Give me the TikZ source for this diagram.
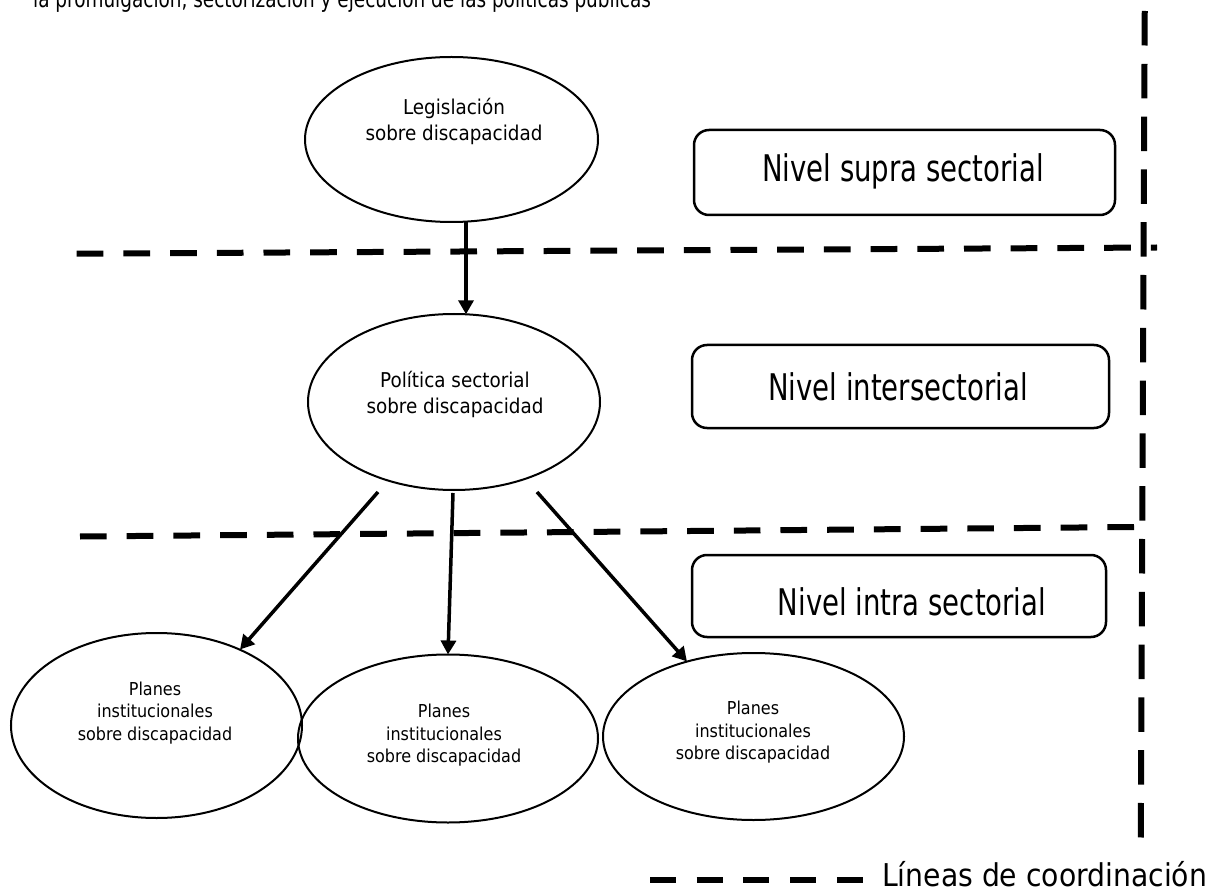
\documentclass[tikz,border=0pt]{standalone}
\usepackage{fontspec}
\setmainfont{DejaVu Sans Condensed}
\usetikzlibrary{arrows.meta,calc,shapes.geometric}
\begin{document}
\begin{tikzpicture}[x=1pt,y=-1pt,
  ell/.style={ellipse,draw,line width=2pt,inner sep=0pt,outer sep=0pt},
  big/.style={font=\fontsize{20.4}{26}\selectfont,align=center,inner sep=0pt},
  small/.style={font=\fontsize{17.8}{22.5}\selectfont,align=center,inner sep=0pt},
  lvlbox/.style={draw,line width=2.5pt,rounded corners=15pt,inner sep=0pt},
  lvltext/.style={font=\fontsize{30.6}{36}\selectfont,inner sep=0pt,anchor=base},
  arr/.style={line width=3.5pt,-{Triangle[width=15pt,length=14pt]}},
  hcoord/.style={line width=6pt,dash pattern=on 26.7pt off 20pt},
  vcoord/.style={line width=6pt,dash pattern=on 34.5pt off 18.3pt}]
\useasboundingbox (0,0) rectangle (1207,890);
\clip (0,0) rectangle (1207,890);

% partially visible heading
\node[font=\fontsize{20.5}{25}\selectfont,inner sep=0pt,anchor=base west] (head) at (33,8)
  {\scalebox{1}[1.15]{la promulgación, sectorización y ejecución de las políticas públicas}};

% ellipses
\node[ell,minimum width=293pt,minimum height=165pt] (leg) at (451.5,139.5) {};
\node[ell,minimum width=292pt,minimum height=176pt] (pol) at (454,402) {};
\node[ell,minimum width=291pt,minimum height=185pt] (pl1) at (156.5,725.5) {};
\node[ell,minimum width=300pt,minimum height=168pt] (pl2) at (448,738.5) {};
\node[ell,minimum width=301pt,minimum height=167pt] (pl3) at (753.5,736.5) {};

% ellipse texts
\node[big] (tleg) at (454,121) {Legislación\\sobre discapacidad};
\node[big] (tpol) at (455,394) {Política sectorial\\sobre discapacidad};
\node[small] (tpl1) at (155,713) {Planes\\institucionales\\sobre discapacidad};
\node[small] (tpl2) at (444,735.5) {Planes\\institucionales\\sobre discapacidad};
\node[small] (tpl3) at (753,732.5) {Planes\\institucionales\\sobre discapacidad};

% level boxes
\node[lvlbox,minimum width=421pt,minimum height=85pt] (b1) at (904.5,172.5) {};
\node[lvlbox,minimum width=417pt,minimum height=83pt] (b2) at (900.5,386.5) {};
\node[lvlbox,minimum width=414pt,minimum height=82pt] (b3) at (899,596) {};
\node[lvltext] (t1) at (903,182) {\scalebox{1}[1.2]{Nivel supra sectorial}};
\node[lvltext] (t2) at (898,400) {\scalebox{1}[1.2]{Nivel intersectorial}};
\node[lvltext] (t3) at (912,615) {\scalebox{1}[1.2]{Nivel intra sectorial}};

% arrows
\draw[arr] ($(leg.center)+(14.5,82.3)$) -- ($(pol.center)+(12,-87.7)$);
\draw[arr] ($(pol.center)+(-76,90)$) -- ($(pl1.center)+(83.5,-76)$);
\draw[arr] ($(pol.center)+(-1,91)$) -- ($(pl2.center)+(0,-84)$);
\draw[arr] ($(pol.center)+(83,90)$) -- ($(pl3.center)+(-66.5,-75)$);

% coordination lines
\coordinate (h1a) at (76.7,253.7);
\coordinate (h1b) at (1157,247.5);
\coordinate (h2a) at (80,536.5);
\coordinate (h2b) at (1134,527);
\coordinate (va) at (1145,-41.8);
\coordinate (vb) at (1140.7,845);
\draw[hcoord] (h1a) -- (h1b);
\draw[hcoord] (h2a) -- (h2b);
\draw[vcoord] (va) -- (vb);

% legend
\coordinate (la) at (650,880);
\coordinate (lb) at (863,880);
\draw[hcoord,dash pattern=on 26pt off 20.7pt] (la) -- (lb);
\node[font=\fontsize{31.4}{36}\selectfont,inner sep=0pt,anchor=base west] (legend) at (882,886.5)
  {Líneas de coordinación};
\end{tikzpicture}
\end{document}
